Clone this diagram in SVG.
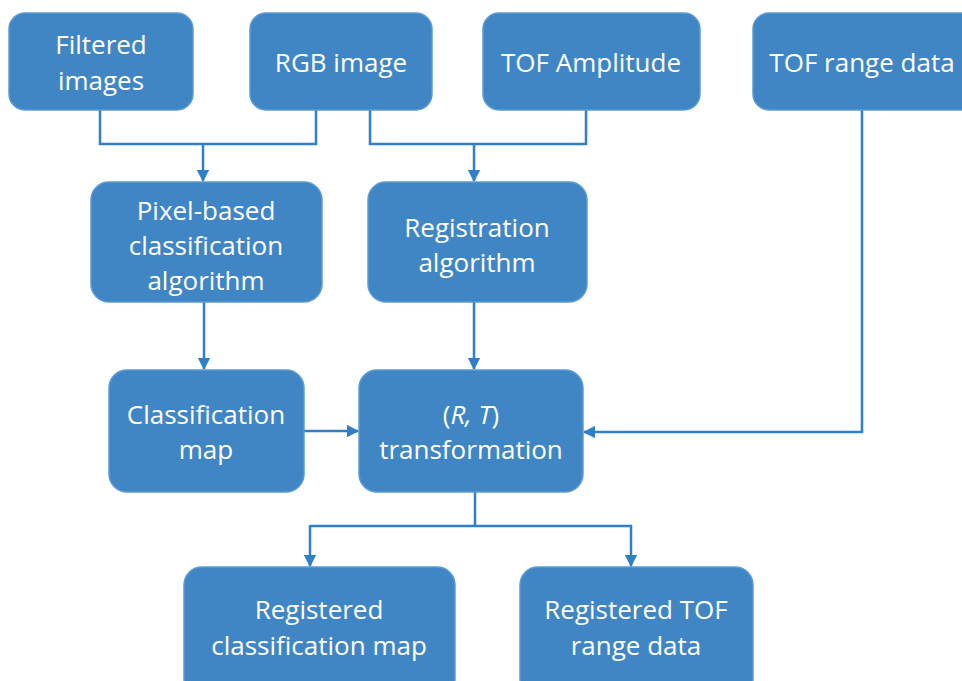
<svg xmlns="http://www.w3.org/2000/svg" width="962" height="681" viewBox="0 0 962 681">
<defs>
<style>
.box{fill:#4186c4;stroke:#5b9bd5;stroke-width:1.5}
.t{font-family:"Open Sans","Noto Sans",sans-serif;font-size:26px;fill:#ffffff;text-anchor:middle}
.c{fill:none;stroke:#2f80c6;stroke-width:2.5}
</style>
<marker id="ah" viewBox="0 0 10 10" refX="9" refY="5" markerWidth="5" markerHeight="5" orient="auto" markerUnits="strokeWidth">
<path d="M0,0 L10,5 L0,10 z" fill="#2f80c6"/>
</marker>
</defs>
<rect width="962" height="681" fill="#ffffff"/>
<g id="connectors">
<polyline class="c" points="100,110 100,144 316,144 316,110"/>
<line class="c" x1="203" y1="144" x2="203" y2="181" marker-end="url(#ah)"/>
<polyline class="c" points="370,110 370,144 586,144 586,110"/>
<line class="c" x1="474" y1="144" x2="474" y2="181" marker-end="url(#ah)"/>
<line class="c" x1="204" y1="302" x2="204" y2="369" marker-end="url(#ah)"/>
<line class="c" x1="474" y1="302" x2="474" y2="369" marker-end="url(#ah)"/>
<line class="c" x1="304" y1="431" x2="358" y2="431" marker-end="url(#ah)"/>
<polyline class="c" points="862,110 862,432 584,432" marker-end="url(#ah)"/>
<line class="c" x1="475" y1="492" x2="475" y2="526"/>
<polyline class="c" points="310,526 631,526 631,566" marker-end="url(#ah)"/>
<line class="c" x1="310" y1="525" x2="310" y2="566" marker-end="url(#ah)"/>
</g>
<g id="filtered">
<rect class="box" x="9" y="13" width="184" height="97" rx="16"/>
<text class="t" x="101" y="54">Filtered</text>
<text class="t" x="101" y="90">images</text>
</g>
<g id="rgb">
<rect class="box" x="250" y="13" width="182" height="97" rx="16"/>
<text class="t" x="341" y="72">RGB image</text>
</g>
<g id="tofamp">
<rect class="box" x="483" y="13" width="217" height="97" rx="16"/>
<text class="t" x="591" y="72">TOF Amplitude</text>
</g>
<g id="tofrange">
<rect class="box" x="753" y="13" width="225" height="97" rx="16"/>
<text class="t" x="862" y="72">TOF range data</text>
</g>
<g id="pixel">
<rect class="box" x="91" y="182" width="231" height="120" rx="18"/>
<text class="t" x="206" y="220">Pixel-based</text>
<text class="t" x="206" y="255">classification</text>
<text class="t" x="206" y="290">algorithm</text>
</g>
<g id="registration">
<rect class="box" x="368" y="182" width="219" height="120" rx="18"/>
<text class="t" x="477" y="237">Registration</text>
<text class="t" x="477" y="272">algorithm</text>
</g>
<g id="classmap">
<rect class="box" x="109" y="370" width="195" height="122" rx="18"/>
<text class="t" x="206" y="424">Classification</text>
<text class="t" x="206" y="459">map</text>
</g>
<g id="rt">
<rect class="box" x="359" y="370" width="224" height="122" rx="18"/>
<text class="t" x="471" y="424">(<tspan font-style="italic">R, T</tspan>)</text>
<text class="t" x="471" y="459">transformation</text>
</g>
<g id="regclass">
<rect class="box" x="184" y="567" width="271" height="130" rx="18"/>
<text class="t" x="319" y="619">Registered</text>
<text class="t" x="319" y="655">classification map</text>
</g>
<g id="regtof">
<rect class="box" x="520" y="567" width="233" height="130" rx="18"/>
<text class="t" x="636" y="619">Registered TOF</text>
<text class="t" x="636" y="655">range data</text>
</g>
</svg>
